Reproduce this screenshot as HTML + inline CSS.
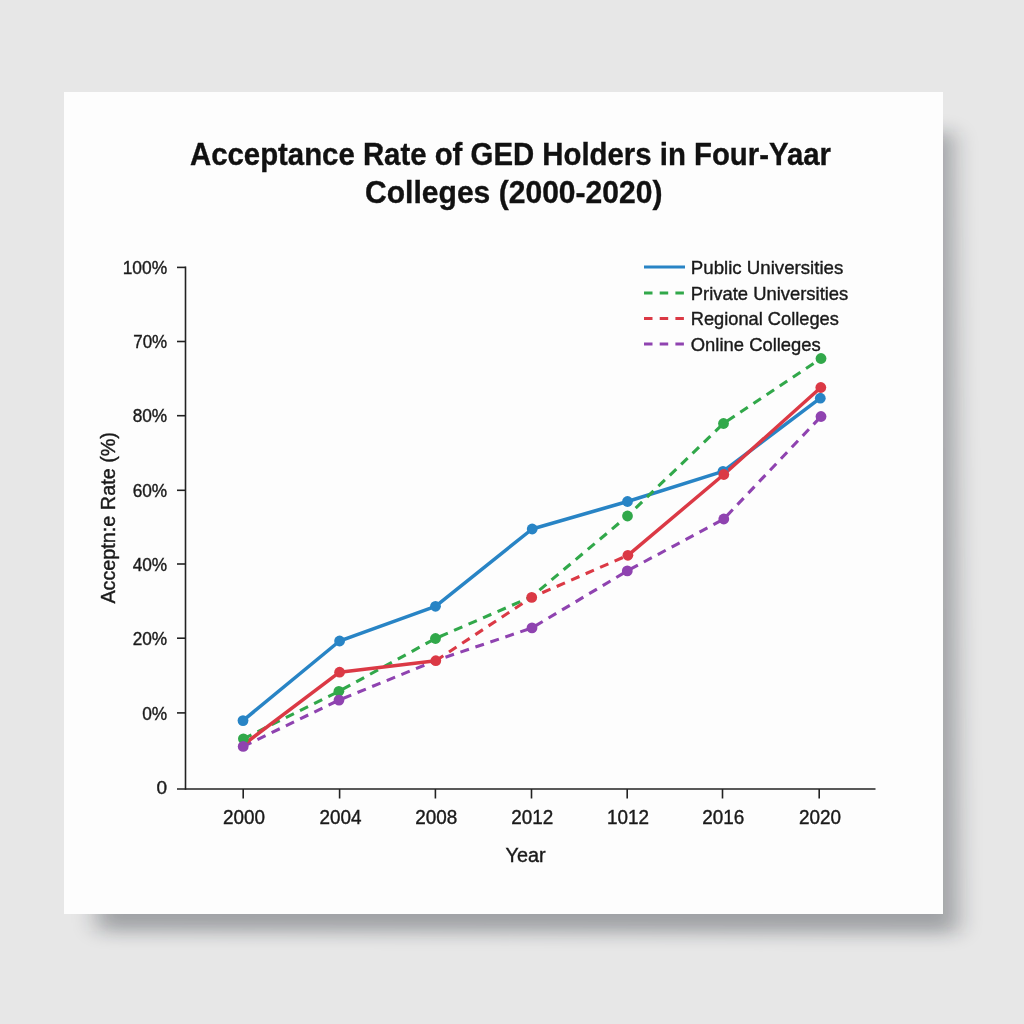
<!DOCTYPE html>
<html><head><meta charset="utf-8">
<style>
html,body{margin:0;padding:0;}
body{width:1024px;height:1024px;overflow:hidden;background:#e7e7e7;position:relative;font-family:"Liberation Sans",sans-serif;}
#card{position:absolute;left:64px;top:92px;width:879px;height:822px;background:#fdfdfd;}
svg{position:absolute;left:0;top:0;will-change:transform;}
</style></head>
<body>
<svg id="shadow" width="1024" height="1024" style="position:absolute;left:0;top:0"><defs><filter id="bl" x="-10%" y="-10%" width="120%" height="120%"><feGaussianBlur stdDeviation="12 9"/></filter></defs><polygon points="97,140 953,132 958,933 97,931" fill="#191c26" opacity="0.34" filter="url(#bl)"/></svg>
<div id="card"></div>
<svg width="1024" height="1024" viewBox="0 0 1024 1024" font-family="Liberation Sans, sans-serif">
  <!-- title -->
  <g fill="#111" stroke="#111" stroke-width="0.35" font-weight="bold" font-size="31">
    <text x="190" y="165" textLength="641" lengthAdjust="spacingAndGlyphs">Acceptance Rate of GED Holders in Four-Yaar</text>
    <text x="365" y="203" textLength="297.5" lengthAdjust="spacingAndGlyphs">Colleges (2000-2020)</text>
  </g>
  <!-- axes -->
  <g stroke="#222" stroke-width="1.6" fill="none">
    <line x1="185.5" y1="266.6" x2="185.5" y2="789.8"/>
    <line x1="177" y1="789" x2="875.5" y2="789"/>
    <line x1="177" y1="267.4" x2="185.5" y2="267.4"/>
    <line x1="177" y1="341.5" x2="185.5" y2="341.5"/>
    <line x1="177" y1="415.7" x2="185.5" y2="415.7"/>
    <line x1="177" y1="490.3" x2="185.5" y2="490.3"/>
    <line x1="177" y1="564" x2="185.5" y2="564"/>
    <line x1="177" y1="638.2" x2="185.5" y2="638.2"/>
    <line x1="177" y1="712.9" x2="185.5" y2="712.9"/>
    <line x1="243.2" y1="789" x2="243.2" y2="798.5"/>
    <line x1="339.6" y1="789" x2="339.6" y2="798.5"/>
    <line x1="435.4" y1="789" x2="435.4" y2="798.5"/>
    <line x1="531.5" y1="789" x2="531.5" y2="798.5"/>
    <line x1="627.2" y1="789" x2="627.2" y2="798.5"/>
    <line x1="722.5" y1="789" x2="722.5" y2="798.5"/>
    <line x1="819.2" y1="789" x2="819.2" y2="798.5"/>
  </g>
  <!-- y labels -->
  <g fill="#1a1a1a" stroke="#1a1a1a" stroke-width="0.4" font-size="19" text-anchor="end">
    <text x="167.2" y="274.1" textLength="44.5" lengthAdjust="spacingAndGlyphs">100%</text>
    <text x="167.2" y="348.2" textLength="34" lengthAdjust="spacingAndGlyphs">70%</text>
    <text x="167.2" y="422.4" textLength="34.5" lengthAdjust="spacingAndGlyphs">80%</text>
    <text x="167.2" y="497.0" textLength="34.5" lengthAdjust="spacingAndGlyphs">60%</text>
    <text x="167.2" y="570.7" textLength="34.5" lengthAdjust="spacingAndGlyphs">40%</text>
    <text x="167.2" y="644.9" textLength="34.5" lengthAdjust="spacingAndGlyphs">20%</text>
    <text x="167.2" y="719.6" textLength="25" lengthAdjust="spacingAndGlyphs">0%</text>
    <text x="167" y="794.4">0</text>
  </g>
  <!-- x labels -->
  <g fill="#1a1a1a" stroke="#1a1a1a" stroke-width="0.4" font-size="19.4" text-anchor="middle">
    <text x="244.0" y="823.9" textLength="42" lengthAdjust="spacingAndGlyphs">2000</text>
    <text x="340.4" y="823.9" textLength="42" lengthAdjust="spacingAndGlyphs">2004</text>
    <text x="436.2" y="823.9" textLength="42" lengthAdjust="spacingAndGlyphs">2008</text>
    <text x="532.3" y="823.9" textLength="42" lengthAdjust="spacingAndGlyphs">2012</text>
    <text x="628.0" y="823.9" textLength="42" lengthAdjust="spacingAndGlyphs">1012</text>
    <text x="723.3" y="823.9" textLength="42" lengthAdjust="spacingAndGlyphs">2016</text>
    <text x="820.0" y="823.9" textLength="42" lengthAdjust="spacingAndGlyphs">2020</text>
    <text x="525.6" y="862.4" textLength="40" lengthAdjust="spacingAndGlyphs">Year</text>
  </g>
  <!-- y title -->
  <text fill="#1a1a1a" stroke="#1a1a1a" stroke-width="0.4" font-size="19.5" transform="translate(115.2,603.6) rotate(-90)" textLength="171.5" lengthAdjust="spacingAndGlyphs">Acceptn:e Rate (%)</text>

  <!-- legend -->
  <g stroke-width="3">
    <line x1="644" y1="267.1" x2="685" y2="267.1" stroke="#2884c5"/>
    <line x1="644" y1="292.9" x2="685" y2="292.9" stroke="#31a84a" stroke-dasharray="8.5 7.2"/>
    <line x1="644" y1="318.6" x2="685" y2="318.6" stroke="#db3945" stroke-dasharray="8.5 7.2"/>
    <line x1="644" y1="344.1" x2="685" y2="344.1" stroke="#8f43b0" stroke-dasharray="8.5 7.2"/>
  </g>
  <g fill="#1a1a1a" stroke="#1a1a1a" stroke-width="0.4" font-size="19">
    <text x="690.8" y="273.9" textLength="152.5" lengthAdjust="spacingAndGlyphs">Public Universities</text>
    <text x="690.8" y="299.6" textLength="157.5" lengthAdjust="spacingAndGlyphs">Private Universities</text>
    <text x="690.8" y="325.2" textLength="148" lengthAdjust="spacingAndGlyphs">Regional Colleges</text>
    <text x="690.8" y="350.8" textLength="130" lengthAdjust="spacingAndGlyphs">Online Colleges</text>
  </g>

  <!-- data lines -->
  <g fill="none" stroke-width="3.5" stroke-linejoin="round">
    <polyline stroke="#2884c5" points="243,720.6 339.6,641 435.5,606.3 532.2,529 627.5,501.5 723,471.3 820.3,398.2"/>
    <polyline stroke="#31a84a" stroke-dasharray="9 6.8" stroke-width="3.1" points="243.4,738.8 338.9,691.3 435.5,638.5 531.5,596.8 627.5,516 723.5,423.5 821,358.5"/>
    <polyline stroke="#8f43b0" stroke-dasharray="9 6.8" stroke-width="3.1" points="243.2,746.4 339,700.1 435.8,660.5 532,627.9 627.3,570.9 723.8,519 821,416.5"/>
    <polyline stroke="#db3945" points="243,745 339.6,672.2 435.8,660.7"/>
    <polyline stroke="#db3945" stroke-dasharray="9 6.8" stroke-width="3.1" points="435.8,660.7 531.7,597.4 627.9,555.3"/>
    <polyline stroke="#db3945" points="627.9,555.3 723.8,474.5 820.8,387.5"/>
  </g>
  <g fill="#2884c5"><circle cx="243" cy="720.6" r="5.4"/><circle cx="339.6" cy="641" r="5.4"/><circle cx="435.5" cy="606.3" r="5.4"/><circle cx="532.2" cy="529" r="5.4"/><circle cx="627.5" cy="501.5" r="5.4"/><circle cx="723" cy="471.3" r="5.4"/><circle cx="820.3" cy="398.2" r="5.4"/></g>
  <g fill="#31a84a"><circle cx="243.4" cy="738.8" r="5.4"/><circle cx="338.9" cy="691.3" r="5.4"/><circle cx="435.5" cy="638.5" r="5.4"/><circle cx="627.5" cy="516" r="5.4"/><circle cx="723.5" cy="423.5" r="5.4"/><circle cx="821" cy="358.5" r="5.4"/></g>
  <g fill="#db3945"><circle cx="339.6" cy="672.2" r="5.4"/><circle cx="435.8" cy="660.7" r="5.4"/><circle cx="531.7" cy="597.4" r="5.4"/><circle cx="627.9" cy="555.3" r="5.4"/><circle cx="723.8" cy="474.5" r="5.4"/><circle cx="820.8" cy="387.5" r="5.4"/></g>
  <g fill="#8f43b0"><circle cx="243.2" cy="746.4" r="5.4"/><circle cx="339" cy="700.1" r="5.4"/><circle cx="532" cy="627.9" r="5.4"/><circle cx="627.3" cy="570.9" r="5.4"/><circle cx="723.8" cy="519" r="5.4"/><circle cx="821" cy="416.5" r="5.4"/></g>
</svg>
</body></html>
